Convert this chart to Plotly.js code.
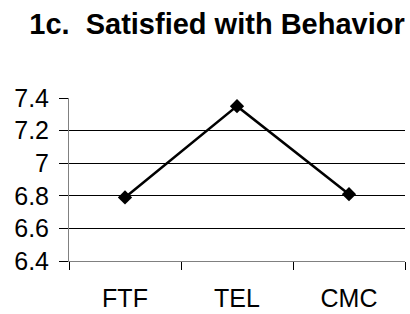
<!DOCTYPE html>
<html>
<head>
<meta charset="utf-8">
<script src="https://cdn.plot.ly/plotly-3.0.1.min.js"></script>
<style>html,body{margin:0;padding:0;background:#fff;}#chart{width:410px;height:314px;}</style>
</head>
<body>
<div id="chart"></div>
<script>
const categories = ["FTF", "TEL", "CMC"];
const values = [6.79, 7.35, 6.81];
const yTickVals = [6.4, 6.6, 6.8, 7.0, 7.2, 7.4];
const yTickText = ["6.4", "6.6", "6.8", "7", "7.2", "7.4"];
const gridVals = [6.6, 6.8, 7.0, 7.2];
const titleText = "1c.\u00A0 Satisfied with Behavior";

const font = "Liberation Sans, Arial, sans-serif";

const traces = [
  {
    x: categories, y: values, type: "scatter", mode: "lines+markers",
    line: {color: "#000", width: 2.5},
    marker: {symbol: "diamond", size: 11, color: "#000"},
    hoverinfo: "skip", cliponaxis: false
  },
  {
    x: categories, y: values, type: "scatter", mode: "none", yaxis: "y2",
    hoverinfo: "skip", showlegend: false
  }
];

const layout = {
  width: 410, height: 314,
  margin: {l: 69, r: 5, t: 98, b: 53, pad: 0},
  paper_bgcolor: "#fff", plot_bgcolor: "rgba(0,0,0,0)",
  showlegend: false,
  font: {family: font, color: "#000", size: 25},
  title: {
    text: "<b>" + titleText + "</b>",
    font: {family: font, size: 29, color: "#000"},
    x: 217/410, xref: "container", xanchor: "center",
    y: 1 - 24/314, yref: "container", yanchor: "middle"
  },
  xaxis: {
    type: "category", range: [-0.5, 2.5], fixedrange: true,
    showgrid: false, zeroline: false,
    showline: true, linecolor: "#808080", linewidth: 1,
    ticks: "outside", tickson: "boundaries", ticklen: 8, tickwidth: 1, tickcolor: "#000",
    tickfont: {family: font, size: 25, color: "#000"},
    ticklabelstandoff: 15
  },
  yaxis: {
    range: [6.4, 7.4], fixedrange: true,
    tickmode: "array", tickvals: yTickVals, ticktext: yTickText,
    showgrid: false, zeroline: false,
    showline: true, linecolor: "#808080", linewidth: 1,
    ticks: "outside", ticklen: 9, tickwidth: 1, tickcolor: "#000",
    tickfont: {family: font, size: 25, color: "#000"},
    ticklabelstandoff: 5
  },
  yaxis2: {
    range: [6.4, 7.4], overlaying: "y", side: "left", fixedrange: true,
    tickmode: "array", tickvals: gridVals,
    showgrid: true, gridcolor: "#000", gridwidth: 1,
    showticklabels: false, ticks: "", zeroline: false, showline: false
  }
};

Plotly.newPlot("chart", traces, layout, {displayModeBar: false, staticPlot: true});
</script>
</body>
</html>
